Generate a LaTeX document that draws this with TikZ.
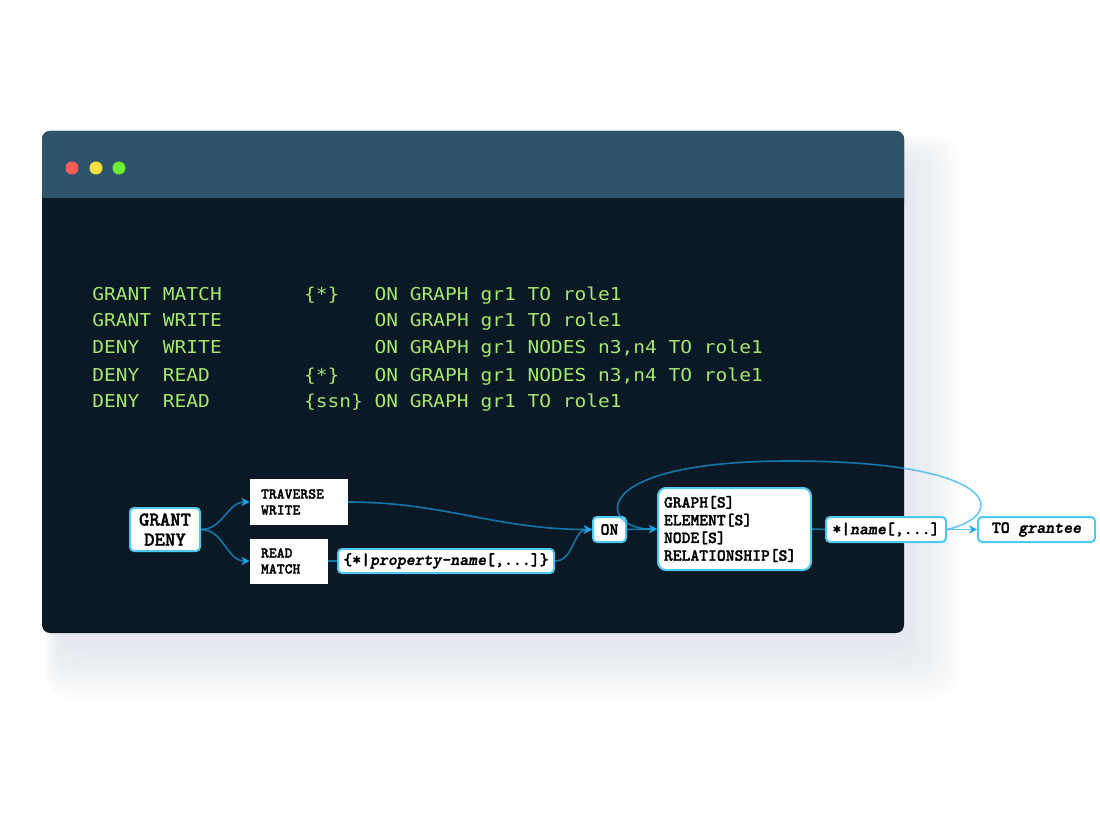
\documentclass[tikz,border=0pt]{standalone}
\usepackage{fontspec}
\usetikzlibrary{arrows}
\newfontfamily\codefont[FakeStretch=1.1]{DejaVu Sans Mono}
\newfontfamily\diagfont[Extension=.otf, UprightFont=*-bold, ItalicFont=*-boldoblique,
    UprightFeatures={FakeBold=1.6}, ItalicFeatures={FakeBold=1.6}]{lmmonolt10}

\definecolor{barcol}{HTML}{2F5469}
\definecolor{bodycol}{HTML}{0B1926}
\definecolor{shadowcol}{HTML}{B8C2D8}
\definecolor{dotred}{HTML}{FF5F56}
\definecolor{dotyellow}{HTML}{FFE23B}
\definecolor{dotgreen}{HTML}{6EF032}
\definecolor{codegreen}{HTML}{A3E76D}
\definecolor{edgecol}{HTML}{4FC9F2}
\definecolor{linecol}{HTML}{18A9EE}

\begin{document}
\begin{tikzpicture}[x=0.5pt,y=-0.5pt,
    box/.style={draw=edgecol, line width=1pt, fill=white, rounded corners=2pt,
        inner sep=0pt, text=black, font=\diagfont\fontsize{8.5}{9}\selectfont},
    sqbox/.style={box, sharp corners, draw=white, line width=0.5pt},
    conn/.style={draw=linecol, line width=0.8pt, draw opacity=0.65},
    codeline/.style={anchor=base west, inner sep=0pt, text=codegreen,
        font=\codefont\fontsize{8.88}{10}\selectfont}]

        % Hintergrund
        \fill[white] (0,0) rectangle (1100,824);
        \useasboundingbox (0,0) rectangle (1100,824);

        % Schatten
        \foreach \i in {1,...,10}
            \fill[shadowcol, opacity=0.035, rounded corners=12pt]
                (60-\i*1.5,161-\i*2.5) rectangle (909+\i*5,648+\i*5);

        % Fenster
        \fill[bodycol, rounded corners=4pt] (42,131) rectangle (904,633);
        \fill[barcol, rounded corners=4pt] (42,131) rectangle (904,212);
        \fill[bodycol] (42,198) rectangle (904,214);
        \foreach \x/\c in {72/dotred, 96/dotyellow, 119/dotgreen}
            \fill[\c] (\x,168) circle (3.25pt);

        % Code
        \node[codeline] (c1) at (92,300) {GRANT~MATCH~~~~~~~\{*\}~~~ON~GRAPH~gr1~TO~role1};
        \node[codeline] (c2) at (92,327) {GRANT~WRITE~~~~~~~~~~~~~ON~GRAPH~gr1~TO~role1};
        \node[codeline] (c3) at (92,354) {DENY~~WRITE~~~~~~~~~~~~~ON~GRAPH~gr1~NODES~n3,n4~TO~role1};
        \node[codeline] (c4) at (92,381) {DENY~~READ~~~~~~~~\{*\}~~~ON~GRAPH~gr1~NODES~n3,n4~TO~role1};
        \node[codeline] (c5) at (92,408) {DENY~~READ~~~~~~~~\{ssn\}~ON~GRAPH~gr1~TO~role1};

        % Syntax
        \node[box, minimum width=35pt, minimum height=21.5pt, align=center,
            font=\diagfont\fontsize{9.9}{10}\selectfont] (gd) at (165,529.5) {GRANT\\DENY};
        \node[sqbox, minimum width=48.5pt, minimum height=22pt, text width=37.5pt, align=left,
            font=\diagfont\fontsize{7.5}{8}\selectfont] (tw) at (298.5,502) {TRAVERSE\\WRITE};
        \node[sqbox, minimum width=38.5pt, minimum height=22pt, text width=27.5pt, align=left,
            font=\diagfont\fontsize{7.5}{8}\selectfont] (rm) at (288.5,561) {READ\\MATCH};
        \node[box, minimum width=108pt, minimum height=12pt] (prop) at (446,561)
            {\{*|\textit{property-name}[,...]\}};
        \node[box, minimum width=16.5pt, minimum height=12.5pt] (on) at (609.5,529.5) {ON};
        \node[box, rounded corners=4pt, minimum width=76.5pt, minimum height=41pt,
            text width=70.5pt, align=left,
            font=\diagfont\fontsize{8.4}{8.85}\selectfont] (graph) at (734.5,529)
            {GRAPH[S]\\ELEMENT[S]\\NODE[S]\\RELATIONSHIP[S]};
        \node[box, minimum width=60pt, minimum height=12.5pt] (nm) at (886,529.5) {*|\textit{name}[,...]};
        \node[box, minimum width=58.5pt, minimum height=12.5pt] (to) at (1036.5,529.5) {TO \textit{grantee}};
        \coordinate (looptop) at (790,461);

        % Verbindungen
        \draw[conn,-stealth] (gd.east) to[out=0,in=180] (tw.west);
        \draw[conn,-stealth] (gd.east) to[out=0,in=180] (rm.west);
        \draw[conn,-stealth] (tw.east) to[out=0,in=180] (on.west);
        \draw[conn] (rm.east) -- (prop.west);
        \draw[conn,-stealth] (prop.east) to[out=0,in=180] (on.west);
        \draw[conn,-stealth] (on.east) -- (graph.west);
        \draw[conn] (graph.east) -- (nm.west);
        \draw[conn,-stealth] (nm.east) -- (to.west);
        \draw[conn,-stealth] (nm.east) .. controls (1010,515) and (1000,461) .. (looptop)
            .. controls (580,461) and (600,530) .. (graph.west);
    \end{tikzpicture}
\end{document}
